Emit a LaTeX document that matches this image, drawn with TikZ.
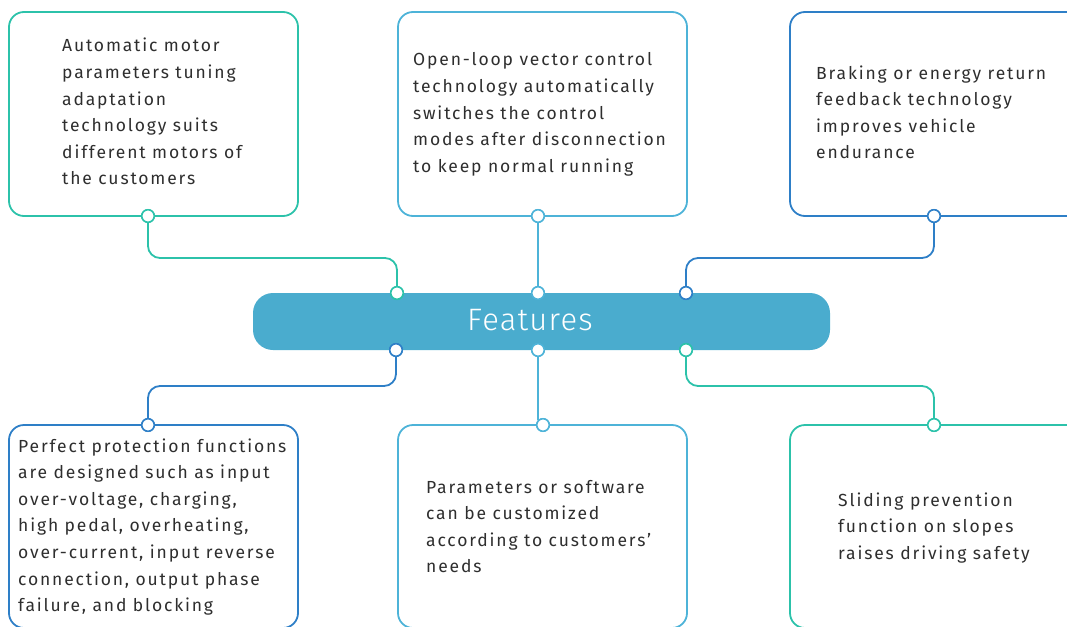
\documentclass[tikz,border=0pt]{standalone}
\usepackage{fontspec}
\setmainfont{Fira Sans}[LetterSpace=10.5]
\newfontfamily\titlefont{Fira Sans Light}[LetterSpace=4]
\definecolor{cteal}{HTML}{2CC2AA}
\definecolor{clight}{HTML}{4DB3D8}
\definecolor{cblue}{HTML}{2E7FC7}
\definecolor{cpill}{HTML}{4AACCE}
\definecolor{ctext}{HTML}{2E2E2E}
\newcommand{\mylines}[1]{\begin{tabular}[t]{@{}l@{}}#1\end{tabular}}
\tikzset{
  fbox/.style={line width=1.8pt, rounded corners=15pt},
  link/.style={line width=1.8pt, rounded corners=12pt},
  dot/.style={circle, fill=white, line width=1.5pt, minimum size=12.5pt, inner sep=0pt},
  txt/.style={anchor=base west, inner sep=0pt, text=ctext, font=\fontsize{17.5}{26.6}\selectfont},
}
\begin{document}
\begin{tikzpicture}[x=1pt,y=-1pt]
\useasboundingbox (0,0) rectangle (1067,626);
\clip (0,0) rectangle (1067,626);
% boxes
\draw[fbox, cteal]  (9,12) rectangle (298,216);
\draw[fbox, clight] (398,12) rectangle (687,216);
\draw[fbox, cblue]  (790,12) rectangle (1090,216);
\draw[fbox, cblue]  (9,425) rectangle (298,628);
\draw[fbox, clight] (398,425) rectangle (687,628);
\draw[fbox, cteal]  (790,425) rectangle (1090,628);
% pill
\node[fill=cpill, rounded corners=20pt, minimum width=577pt, minimum height=57pt, inner sep=0pt] (pill) at (541.5,321.5) {};
\node[text=white, inner sep=0pt, font=\titlefont\fontsize{31}{36}\selectfont] (title) at (530,320) {Features};
% dots
\node[dot, draw=cteal]  (d1) at (148,216) {};
\node[dot, draw=clight] (d2) at (538,216) {};
\node[dot, draw=cblue]  (d3) at (934,216) {};
\node[dot, draw=cteal]  (p1) at (397,293) {};
\node[dot, draw=clight] (p2) at (538,293) {};
\node[dot, draw=cblue]  (p3) at (686,293) {};
\node[dot, draw=cblue]  (q1) at (396,350) {};
\node[dot, draw=clight] (q2) at (538,350) {};
\node[dot, draw=cteal]  (q3) at (686,350) {};
\node[dot, draw=cblue]  (e1) at (148,425) {};
\node[dot, draw=clight] (e2) at (543,425) {};
\node[dot, draw=cteal]  (e3) at (934,425) {};
\coordinate (e2t) at (538,420);
% connectors
\draw[link, cteal]  (d1.south) |- (258,258) -| (p1.north);
\draw[link, clight] (d2.south) -- (p2.north);
\draw[link, cblue]  (d3.south) |- (800,258) -| (p3.north);
\draw[link, cblue]  (q1.south) |- (300,386) -| (e1.north);
\draw[link, clight] (q2.south) -- (e2t);
\draw[link, cteal]  (q3.south) |- (800,386) -| (e3.north);
% redraw dots on top
\foreach \n/\c in {d1/cteal,d2/clight,d3/cblue,p1/cteal,p2/clight,p3/cblue,q1/cblue,q2/clight,q3/cteal,e1/cblue,e2/clight,e3/cteal}
  \node[dot, draw=\c] at (\n) {};
% texts
\node[txt] (t1) at (62,52) {\mylines{Automatic motor\\parameters tuning\\adaptation\\technology suits\\different motors of\\the customers}};
\node[txt] (t2) at (413,66) {\mylines{Open-loop vector control\\technology automatically\\switches the control\\modes after disconnection\\to keep normal running}};
\node[txt] (t3) at (816,79) {\mylines{Braking or energy return\\feedback technology\\improves vehicle\\endurance}};
\node[txt] (t4) at (18,452) {\mylines{Perfect protection functions\\are designed such as input\\over-voltage, charging,\\high pedal, overheating,\\over-current, input reverse\\connection, output phase\\failure, and blocking}};
\node[txt] (t5) at (426,493) {\mylines{Parameters or software\\can be customized\\according to customers'\\needs}};
\node[txt] (t6) at (838,506) {\mylines{Sliding prevention\\function on slopes\\raises driving safety}};
\end{tikzpicture}
\end{document}
